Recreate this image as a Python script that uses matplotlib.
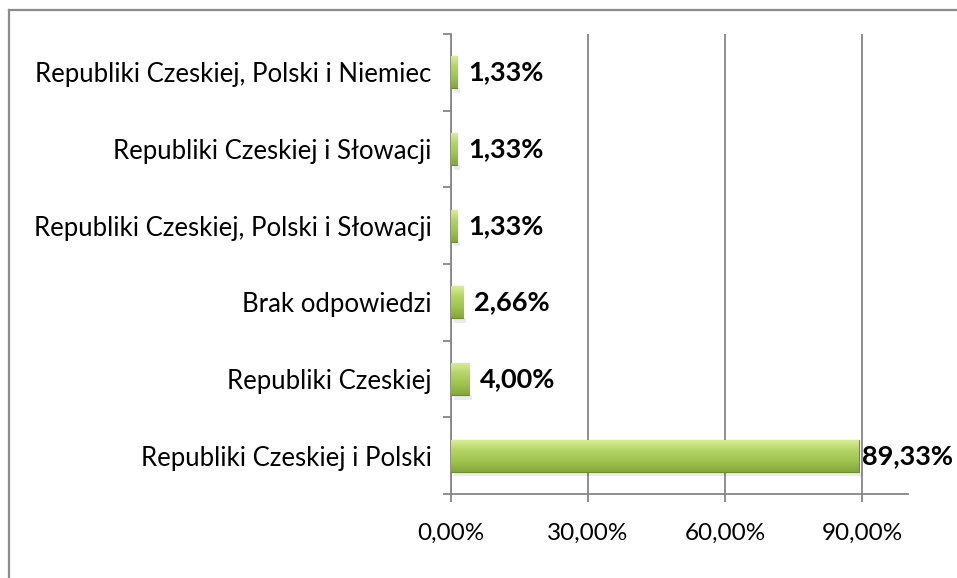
import matplotlib
matplotlib.use("Agg")
import matplotlib.pyplot as plt
import numpy as np
from matplotlib.colors import LinearSegmentedColormap
from matplotlib.lines import Line2D

categories = [
    "Republiki Czeskiej i Polski",
    "Republiki Czeskiej",
    "Brak odpowiedzi",
    "Republiki Czeskiej, Polski i Słowacji",
    "Republiki Czeskiej i Słowacji",
    "Republiki Czeskiej, Polski i Niemiec",
]
values = [89.33, 4.00, 2.66, 1.33, 1.33, 1.33]
value_labels = ["89,33%", "4,00%", "2,66%", "1,33%", "1,33%", "1,33%"]
x_ticks = [0, 30, 60, 90]
x_tick_labels = ["0,00%", "30,00%", "60,00%", "90,00%"]

plt.rcParams['font.family'] = ['Lato', 'DejaVu Sans']

fig = plt.figure(figsize=(9.57, 5.78), dpi=100)
ax = fig.add_axes([0.4713, 0.1453, 0.4772, 0.7959])

# outer chart frame (top and left edges visible)
fig.add_artist(Line2D([0.009, 1.0], [0.983, 0.983], transform=fig.transFigure,
                      color="#8c8c8c", lw=1.6))
fig.add_artist(Line2D([0.009, 0.009], [0.0, 0.983], transform=fig.transFigure,
                      color="#8c8c8c", lw=1.6))

y = np.arange(len(categories))
bar_h = 0.42
bars = ax.barh(y, values, height=bar_h, color="#9bbb59", edgecolor="#6e8a2e",
               linewidth=0.8, zorder=3)

# vertical green gradient on each bar: light on top, darker below
cmap = LinearSegmentedColormap.from_list(
    "grn", ["#86a63a", "#a0c450", "#b5d466", "#dcef98"])
grad = np.linspace(0, 1, 64).reshape(-1, 1)
for b in bars:
    x0, y0 = b.get_x(), b.get_y()
    w, h = b.get_width(), b.get_height()
    im = ax.imshow(grad, cmap=cmap, aspect="auto", origin="lower",
                   extent=[x0, x0 + w, y0, y0 + h], zorder=3.5,
                   interpolation="bicubic")
    im.set_clip_path(b)
    # soft drop shadow
    ax.fill_between([x0 + 0.6, x0 + w + 0.6], y0 - 0.06, y0,
                    color="#000000", alpha=0.08, lw=0, zorder=2.5)

ax.set_xlim(0, 100)
ax.set_ylim(-0.5, len(categories) - 0.5)

ax.set_xticks(x_ticks)
ax.set_xticklabels(x_tick_labels, fontsize=17.5)
ax.set_yticks(y)
ax.set_yticklabels(categories, fontsize=18.5)
ax.set_yticks(np.arange(-0.5, len(categories), 1.0), minor=True)

ax.tick_params(axis="y", which="major", length=0, pad=14)
ax.tick_params(axis="y", which="minor", length=6, width=1.3, color="#868686")
ax.tick_params(axis="x", which="major", length=5.5, width=1.3, color="#868686", pad=15)

ax.grid(axis="x", color="#868686", lw=1.3, zorder=0)
ax.set_axisbelow(True)
for s in ["top", "right"]:
    ax.spines[s].set_visible(False)
ax.spines["left"].set_color("#868686")
ax.spines["left"].set_linewidth(1.3)
ax.spines["bottom"].set_color("#868686")
ax.spines["bottom"].set_linewidth(1.3)

for yi, v, lab in zip(y, values, value_labels):
    off = 2 if v > 50 else 8
    ax.annotate(lab, xy=(v, yi), xytext=(off, 0), textcoords="offset points",
                ha="left", va="center", fontsize=19.5, fontweight="bold",
                color="#000000", zorder=5, annotation_clip=False)

fig.savefig("out.png", dpi=100)
